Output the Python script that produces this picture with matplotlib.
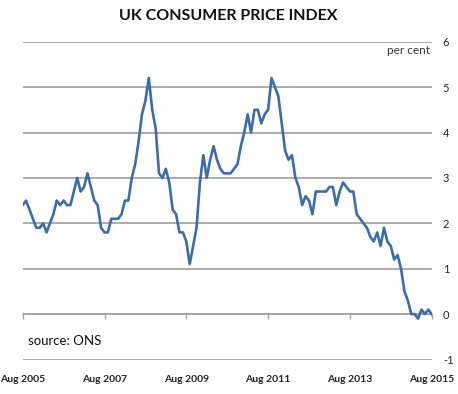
import matplotlib
matplotlib.use("Agg")
import matplotlib.pyplot as plt
import numpy as np

plt.rcParams['font.family'] = ['Lato', 'DejaVu Sans']

# Monthly CPI annual rate (%), Aug 2005 .. Aug 2015
cpi = [
    2.4, 2.5, 2.3, 2.1, 1.9,                                        # Aug-Dec 2005
    1.9, 2.0, 1.8, 2.0, 2.2, 2.5, 2.4, 2.5, 2.4, 2.4, 2.7, 3.0,     # 2006
    2.7, 2.8, 3.1, 2.8, 2.5, 2.4, 1.9, 1.8, 1.8, 2.1, 2.1, 2.1,     # 2007
    2.2, 2.5, 2.5, 3.0, 3.3, 3.8, 4.4, 4.7, 5.2, 4.5, 4.1, 3.1,     # 2008
    3.0, 3.2, 2.9, 2.3, 2.2, 1.8, 1.8, 1.6, 1.1, 1.5, 1.9, 2.9,     # 2009
    3.5, 3.0, 3.4, 3.7, 3.4, 3.2, 3.1, 3.1, 3.1, 3.2, 3.3, 3.7,     # 2010
    4.0, 4.4, 4.0, 4.5, 4.5, 4.2, 4.4, 4.5, 5.2, 5.0, 4.8, 4.2,     # 2011
    3.6, 3.4, 3.5, 3.0, 2.8, 2.4, 2.6, 2.5, 2.2, 2.7, 2.7, 2.7,     # 2012
    2.7, 2.8, 2.8, 2.4, 2.7, 2.9, 2.8, 2.7, 2.7, 2.2, 2.1, 2.0,     # 2013
    1.9, 1.7, 1.6, 1.8, 1.5, 1.9, 1.6, 1.5, 1.2, 1.3, 1.0, 0.5,     # 2014
    0.3, 0.0, 0.0, -0.1, 0.1, 0.0, 0.1, 0.0,                        # Jan-Aug 2015
]
x_tick_labels = ["Aug 2005", "Aug 2007", "Aug 2009", "Aug 2011", "Aug 2013", "Aug 2015"]
y_ticks = [-1, 0, 1, 2, 3, 4, 5, 6]

title = "UK CONSUMER PRICE INDEX"
unit_label = "per cent"
source_label = "source: ONS"

months = np.arange(len(cpi))

fig = plt.figure(figsize=(4.58, 3.94), dpi=100)
ax = fig.add_axes([22.7 / 458, 34.5 / 394, 409 / 458, 317.8 / 394])

grid_color = "#a6a6a6"
ax.set_xlim(0, len(cpi) - 1)
ax.set_ylim(-1, 6)
ax.set_yticks(y_ticks)
ax.yaxis.grid(True, color=grid_color, linewidth=1.3)
ax.set_axisbelow(True)

ax.plot(months, cpi, color="#3d6ca8", linewidth=1.9, solid_joinstyle="round", zorder=3)

for s in ["top", "left", "right"]:
    ax.spines[s].set_visible(False)
ax.spines["bottom"].set_position(("data", 0))
ax.spines["bottom"].set_color(grid_color)
ax.spines["bottom"].set_linewidth(1.3)

ax.yaxis.tick_right()
ax.tick_params(axis="y", length=0, pad=8, labelsize=8, labelcolor="#222222")
ax.set_yticklabels([str(v) for v in y_ticks])

ax.set_xticks(months[::24])
ax.set_xticklabels(x_tick_labels)
ax.tick_params(axis="x", direction="out", length=3.5, width=1, color=grid_color,
               pad=40, labelsize=7.5, labelcolor="#222222")
for lbl in ax.get_xticklabels():
    lbl.set_fontweight("bold")

fig.text(228.5 / 458, 1 - 16.5 / 394, title, ha="center", va="center",
         fontsize=11.5, fontweight="bold", color="#111111")
fig.text(430 / 458, 1 - 50 / 394, unit_label, ha="right", va="center",
         fontsize=8.5, color="#333333")
fig.text(28 / 458, 1 - 340.7 / 394, source_label, ha="left", va="center",
         fontsize=9.5, color="#111111")

fig.savefig("out.png", dpi=100)
